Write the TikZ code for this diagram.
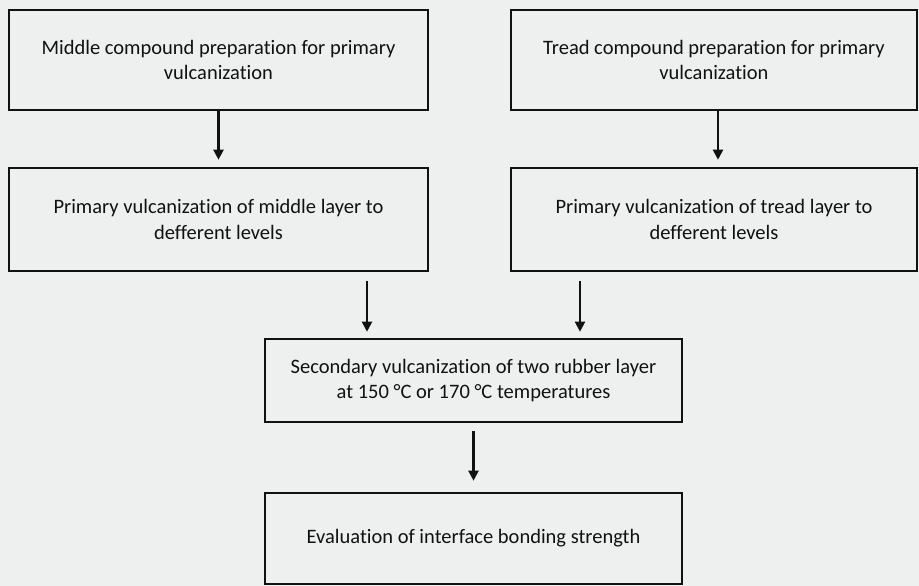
\documentclass[tikz,border=0pt]{standalone}
\usepackage{fontspec}
\setmainfont{Carlito}[Ligatures=NoCommon]
\usetikzlibrary{arrows.meta,calc}
\definecolor{figink}{HTML}{111111}
\definecolor{figpaper}{HTML}{EEF0EF}

\begin{document}
\begin{tikzpicture}[x=1pt, y=-1pt, line width=2.6pt, line join=miter,
    stepbox/.style={draw=figink, rectangle, inner sep=0pt, align=center,
      font=\fontsize{20.5}{25.5}\selectfont, text=figink},
    flow/.style={draw=figink, line width=2.2pt, -{Triangle[length=10pt,width=10pt]}}]
  % page, same size as the scan
  \useasboundingbox (0,0) rectangle (919,586);
  \fill[figpaper] (0,0) rectangle (919,586);

  % top row: compound preparation
  \node[stepbox, minimum width=419, minimum height=100] (mid1) at (218.5,60)
    {Middle compound preparation for primary\\vulcanization};
  \node[stepbox, minimum width=406, minimum height=100] (tread1) at (714,60)
    {Tread compound preparation for primary\\vulcanization};

  % second row: primary vulcanization
  \node[stepbox, minimum width=419, minimum height=103] (mid2) at (218.5,219.5)
    {Primary vulcanization of middle layer to\\defferent levels};
  \node[stepbox, minimum width=406, minimum height=103] (tread2) at (714,219.5)
    {Primary vulcanization of tread layer to\\defferent levels};

  % secondary vulcanization and evaluation
  \node[stepbox, minimum width=417, minimum height=83] (sec) at (473.5,380.5)
    {Secondary vulcanization of two rubber layer\\at 150 °C or 170 °C temperatures};
  \node[stepbox, minimum width=417, minimum height=91] (eval) at (473.5,538.5)
    {Evaluation of interface bonding strength};

  % connectors
  \draw[flow, shorten >=7pt] (mid1) -- (mid2);
  \draw[flow, shorten >=7pt] (tread1.south -| 718,0) -- (tread2.north -| 718,0);
  \coordinate (jl) at (367,0);
  \coordinate (jr) at (580,0);
  \draw[flow, shorten <=9pt, shorten >=6pt] (jl |- mid2.south) -- (jl |- sec.north);
  \draw[flow, shorten <=9pt, shorten >=6pt] (jr |- tread2.south) -- (jr |- sec.north);
  \draw[flow, shorten <=8pt, shorten >=11pt] (sec) -- (eval);
\end{tikzpicture}
\end{document}
